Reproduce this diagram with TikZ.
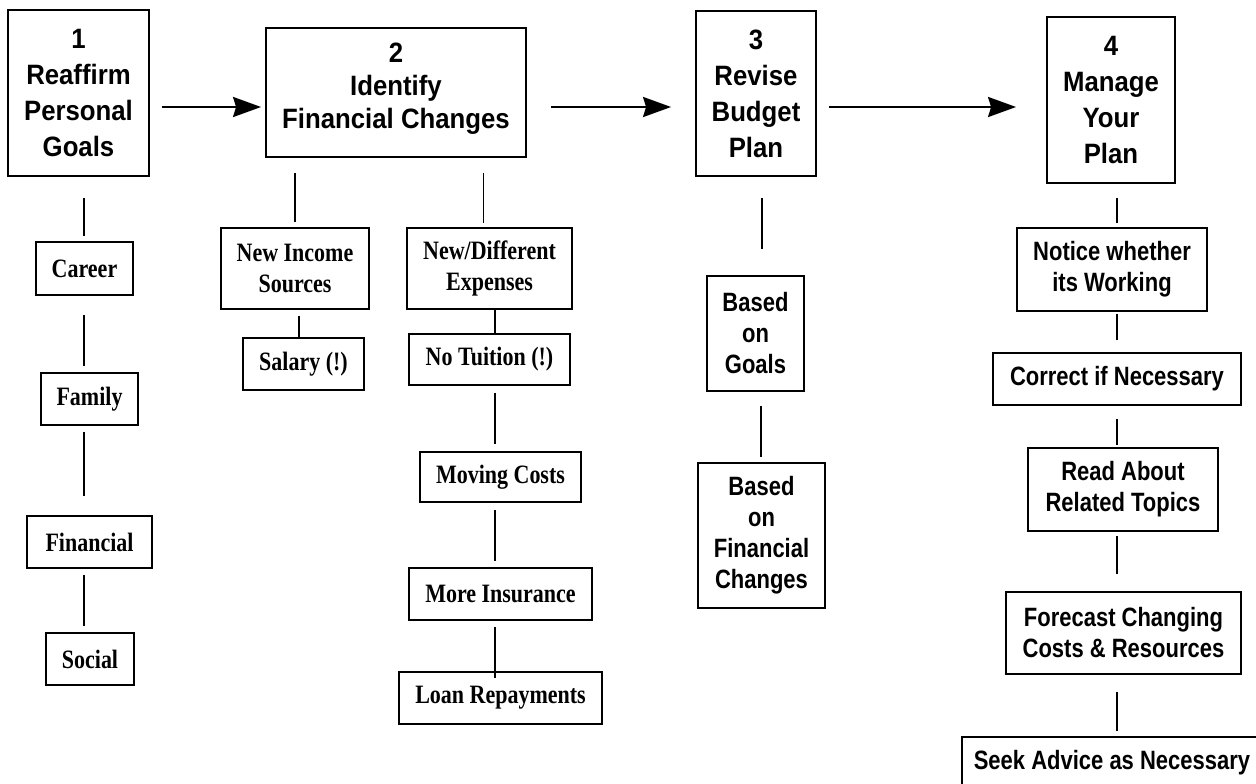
\documentclass[tikz,border=0pt]{standalone}
\usepackage{fontspec}
\newfontfamily\stagefont[FakeStretch=0.92]{Liberation Sans Bold}
\newfontfamily\notefont[FakeStretch=0.83]{Liberation Sans Bold}
\newfontfamily\itemfont[FakeStretch=0.83]{Liberation Serif Bold}
\usetikzlibrary{arrows.meta}
\tikzset{
    stage/.style={draw, line width=1.8pt, inner sep=0pt, align=center, font=\stagefont\fontsize{28}{36}\selectfont},
    item/.style={draw, line width=1.6pt, inner sep=0pt, align=center, font=\itemfont\fontsize{26.5}{31}\selectfont},
    note/.style={item, font=\notefont\fontsize{26.5}{31}\selectfont},
    link/.style={line width=1.5pt},
    flow/.style={->, line width=2.6pt}
}

\begin{document}
\begin{tikzpicture}[
        x=1pt, y=-1pt,
        >={Stealth[length=28pt, width=20pt, inset=3pt]}
    ]
        \useasboundingbox (0,0) rectangle (1256,784);
        \fill[white] (0,0) rectangle (1256,784);
        \clip (0,0) rectangle (1256,784);

        % the four stages
        \node[stage, minimum width=141, minimum height=166] (goals) at (78.5,93) {1\\Reaffirm\\Personal\\Goals};
        \node[stage, minimum width=260, minimum height=129, text depth=14pt, font=\stagefont\fontsize{28}{33}\selectfont] (changes) at (396,92.5) {2\\Identify\\Financial Changes};
        \node[stage, minimum width=120, minimum height=165] (budget) at (756,93.5) {3\\Revise\\Budget\\Plan};
        \node[stage, minimum width=128, minimum height=166] (manage) at (1111,100) {4\\Manage\\Your\\Plan};

        % goals
        \node[item, minimum width=97, minimum height=53] (career) at (84.5,268.5) {Career};
        \node[item, minimum width=97, minimum height=52] (family) at (89.5,399) {Family};
        \node[item, minimum width=125, minimum height=52] (financial) at (89.5,542) {Financial};
        \node[item, minimum width=88, minimum height=52] (social) at (90,659) {Social};

        % changes
        \node[item, minimum width=148, minimum height=81] (income) at (295,268.5) {New Income\\Sources};
        \node[item, minimum width=165, minimum height=81] (expenses) at (489.5,268.5) {New/Different\\Expenses};
        \node[item, minimum width=121, minimum height=52] (salary) at (303.5,364) {Salary (!)};
        \node[item, minimum width=161, minimum height=51] (tuition) at (489.5,359.5) {No Tuition (!)};
        \node[item, minimum width=161, minimum height=50] (moving) at (500.5,477) {Moving Costs};
        \node[item, minimum width=183, minimum height=52] (insurance) at (500.5,594) {More Insurance};
        \node[item, minimum width=203, minimum height=52] (loan) at (500.5,698) {Loan Repayments};

        % budget
        \node[note, minimum width=97, minimum height=115] (ongoals) at (755.5,333.5) {Based\\on\\Goals};
        \node[note, minimum width=127, minimum height=145] (onchanges) at (761.5,535.5) {Based\\on\\Financial\\Changes};

        % manage
        \node[note, minimum width=190, minimum height=83] (notice) at (1112,269.5) {Notice whether\\its Working};
        \node[note, minimum width=248, minimum height=52] (correct) at (1117,379) {Correct if Necessary};
        \node[note, minimum width=190, minimum height=83] (read) at (1123,489.5) {Read About\\Related Topics};
        \node[note, minimum width=235, minimum height=82] (forecast) at (1123.5,633) {Forecast Changing\\Costs \& Resources};
        \node[note, minimum width=300, minimum height=52] (advice) at (1112,763) {Seek Advice as Necessary};

        \coordinate (axis) at (0,107);
        \coordinate (colA) at (84,0);
        \coordinate (colB) at (495,0);
        \coordinate (colC) at (762,0);
        \coordinate (colD) at (1117,0);

        \draw[flow, shorten <=12pt, shorten >=4pt] (goals.east |- axis) -- (changes.west |- axis);
        \draw[flow, shorten <=24pt, shorten >=24pt] (changes.east |- axis) -- (budget.west |- axis);
        \draw[flow, shorten <=12pt, shorten >=30pt] (budget.east |- axis) -- (manage.west |- axis);

        \draw[link, shorten <=21pt, shorten >=5pt] (colA |- goals.south) -- (colA |- career.north);
        \draw[link, shorten <=19pt, shorten >=6pt] (colA |- career.south) -- (colA |- family.north);
        \draw[link, shorten <=6pt, shorten >=19pt] (colA |- family.south) -- (colA |- financial.north);
        \draw[link, shorten <=6pt, shorten >=6pt] (colA |- financial.south) -- (colA |- social.north);

        \draw[link, shorten <=15pt, shorten >=5pt] (income.north |- changes.south) -- (income.north);
        \draw[link, shorten <=15pt, shorten >=4pt] ([xshift=-6pt]expenses.north |- changes.south) -- ([xshift=-6pt]expenses.north);
        \draw[link, shorten <=6pt] ([xshift=4pt]income.south) -- ([xshift=4pt]income.south |- salary.north);
        \draw[link] (colB |- expenses.south) -- (colB |- tuition.north);
        \draw[link, shorten <=7pt, shorten >=7pt] (colB |- tuition.south) -- (colB |- moving.north);
        \draw[link, shorten <=7pt, shorten >=6pt] (colB |- moving.south) -- (colB |- insurance.north);
        \draw[link, shorten <=6pt, shorten >=-7pt] (colB |- insurance.south) -- (colB |- loan.north);

        \draw[link, shorten <=21pt, shorten >=26pt] (colC |- budget.south) -- (colC |- ongoals.north);
        \draw[link, shorten <=14pt, shorten >=5pt] ([xshift=-1pt]colC |- ongoals.south) -- ([xshift=-1pt]colC |- onchanges.north);

        \draw[link, shorten <=14pt, shorten >=4pt] (colD |- manage.south) -- (colD |- notice.north);
        \draw[link, shorten <=2pt, shorten >=12pt] (colD |- notice.south) -- (colD |- correct.north);
        \draw[link, shorten <=13pt, shorten >=2pt] (colD |- correct.south) -- (colD |- read.north);
        \draw[link, shorten <=4pt, shorten >=17pt] (colD |- read.south) -- (colD |- forecast.north);
        \draw[link, shorten <=17pt, shorten >=5pt] (colD |- forecast.south) -- (colD |- advice.north);
    \end{tikzpicture}
\end{document}
